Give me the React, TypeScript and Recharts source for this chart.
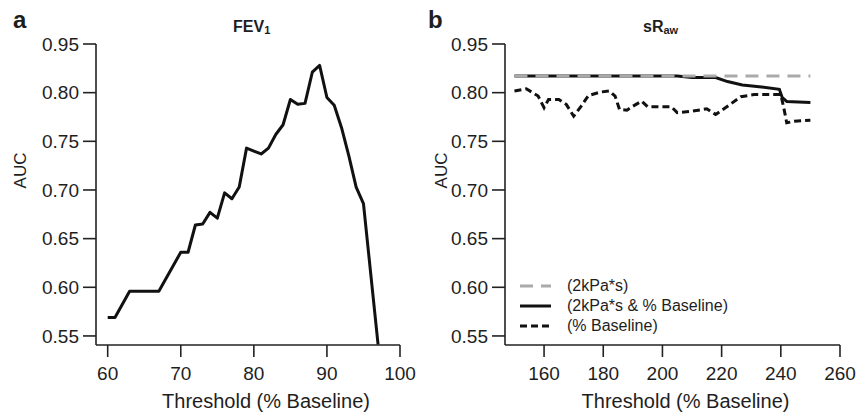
import React from 'react';
import { LineChart, Line, XAxis, YAxis, Legend } from 'recharts';

const FONT = '"Liberation Sans", Arial, Helvetica, sans-serif';
const INK = '#1e1e1e';

// ---- Panel a: FEV1 ----
const fevThreshold = [60, 61, 63, 67, 70, 71, 72, 73, 74, 75, 76, 77, 78, 79, 80, 81, 82, 83, 84, 85, 86, 87, 88, 89, 90, 91, 92, 93, 94, 95, 97];
const fevAuc = [0.569, 0.569, 0.596, 0.596, 0.636, 0.636, 0.664, 0.665, 0.677, 0.671, 0.697, 0.691, 0.703, 0.743, 0.74, 0.737, 0.743, 0.757, 0.767, 0.793, 0.788, 0.789, 0.821, 0.828, 0.795, 0.787, 0.764, 0.735, 0.703, 0.686, 0.541];
const fevXTicks = [60, 70, 80, 90, 100];

// ---- Panel b: sRaw ----
const kpaThreshold = [150, 250];
const kpaAuc = [0.817, 0.817];
const comboThreshold = [150, 205, 210, 218, 222, 227, 233.5, 239.5, 240.5, 242, 250];
const comboAuc = [0.817, 0.817, 0.8155, 0.8155, 0.8114, 0.8079, 0.8058, 0.8034, 0.7948, 0.791, 0.79];
const pctThreshold = [150, 154, 158, 160, 161.5, 165, 167.5, 170, 172.5, 175, 179, 182, 184, 185.5, 188, 190, 193, 195, 203, 205, 210, 215, 218, 222, 226.5, 231, 240, 241, 242, 244.5, 250];
const pctAuc = [0.8017, 0.804, 0.7965, 0.7845, 0.793, 0.793, 0.788, 0.7758, 0.786, 0.797, 0.8006, 0.8017, 0.7965, 0.7827, 0.782, 0.786, 0.7913, 0.7855, 0.7855, 0.7795, 0.781, 0.7834, 0.7775, 0.786, 0.7959, 0.798, 0.798, 0.7845, 0.769, 0.7706, 0.7716];
const sRawXTicks = [160, 180, 200, 220, 240, 260];

// ---- shared y axis ----
const yTicks = [0.55, 0.6, 0.65, 0.7, 0.75, 0.8, 0.85];
const yTickLabels = ['0.55', '0.60', '0.65', '0.70', '0.75', '0.80', '0.95'];

const seriesNames = ['(2kPa*s)', '(2kPa*s & % Baseline)', '(% Baseline)'];
const seriesStyles = [
  { color: '#aaaaaa', dash: '13 8' },
  { color: '#111111', dash: undefined as string | undefined },
  { color: '#111111', dash: '7 4' },
];

const toRows = (xs: number[], ys: number[]) => xs.map((x, i) => ({ threshold: x, auc: ys[i] }));

const fevRows = toRows(fevThreshold, fevAuc);
const kpaRows = toRows(kpaThreshold, kpaAuc);
const comboRows = toRows(comboThreshold, comboAuc);
const pctRows = toRows(pctThreshold, pctAuc);

const yFmt = (v: number) => {
  const i = yTicks.findIndex((t) => Math.abs(t - v) < 1e-9);
  return i >= 0 ? yTickLabels[i] : String(v);
};

const tickStyle = { fontSize: 19, fill: INK, fontFamily: FONT };
const axisLine = { stroke: '#222', strokeWidth: 1.6 };

const LegendBox = () => (
  <div style={{ fontFamily: FONT, fontSize: 16, color: INK }}>
    {seriesNames.map((name, i) => (
      <div key={name} style={{ display: 'flex', alignItems: 'center', height: 20 }}>
        <svg width={47} height={20} style={{ flex: 'none' }}>
          <line x1={0} y1={10} x2={31} y2={10} stroke={seriesStyles[i].color} strokeWidth={3} strokeDasharray={seriesStyles[i].dash} />
        </svg>
        <span style={{ whiteSpace: 'nowrap' }}>{name}</span>
      </div>
    ))}
  </div>
);

const abs = (left: number, top: number, extra: React.CSSProperties = {}): React.CSSProperties => ({
  position: 'absolute',
  left,
  top,
  lineHeight: 1,
  whiteSpace: 'nowrap',
  fontFamily: FONT,
  color: INK,
  ...extra,
});

export default function App() {
  return (
    <div style={{ position: 'absolute', left: 0, top: 0, width: 857, height: 417, background: '#fff', overflow: 'hidden' }}>
      <div style={{ position: 'absolute', left: 0, top: 0 }}>
        <LineChart width={430} height={417} data={fevRows} margin={{ top: 44, right: 30, bottom: 0, left: 0 }}>
          <XAxis
            dataKey="threshold"
            type="number"
            domain={[58.4, 100]}
            ticks={fevXTicks}
            allowDataOverflow
            height={72}
            tickSize={12}
            tickMargin={10}
            tick={tickStyle}
            axisLine={axisLine}
            tickLine={axisLine}
            interval={0}
            label={{ value: 'Threshold (% Baseline)', position: 'insideBottom', offset: 9, dx: 18, fontSize: 20, fill: INK, fontFamily: FONT }}
          />
          <YAxis
            type="number"
            domain={[0.5407, 0.85]}
            ticks={yTicks}
            allowDataOverflow
            width={96}
            tickSize={13}
            tickMargin={4}
            tick={tickStyle}
            tickFormatter={yFmt}
            axisLine={axisLine}
            tickLine={axisLine}
            interval={0}
            label={{ value: 'AUC', angle: -90, position: 'center', dx: -28, dy: -24, fontSize: 17, fill: INK, fontFamily: FONT }}
          />
          <Line type="linear" dataKey="auc" stroke="#111" strokeWidth={3} dot={false} strokeLinejoin="round" isAnimationActive={false} />
        </LineChart>
      </div>

      <div style={{ position: 'absolute', left: 430, top: 0 }}>
        <LineChart width={427} height={417} margin={{ top: 44, right: 17, bottom: 0, left: 0 }}>
          <XAxis
            dataKey="threshold"
            type="number"
            domain={[146.8, 260]}
            ticks={sRawXTicks}
            allowDataOverflow
            height={72}
            tickSize={12}
            tickMargin={10}
            tick={tickStyle}
            axisLine={axisLine}
            tickLine={axisLine}
            interval={0}
            label={{ value: 'Threshold (% Baseline)', position: 'insideBottom', offset: 9, dx: 13, fontSize: 20, fill: INK, fontFamily: FONT }}
          />
          <YAxis
            type="number"
            domain={[0.5407, 0.85]}
            ticks={yTicks}
            allowDataOverflow
            width={75}
            tickSize={13}
            tickMargin={4}
            tick={tickStyle}
            tickFormatter={yFmt}
            axisLine={axisLine}
            tickLine={axisLine}
            interval={0}
            label={{ value: 'AUC', angle: -90, position: 'center', dx: -27, dy: -24, fontSize: 17, fill: INK, fontFamily: FONT }}
          />
          <Line data={pctRows} name={seriesNames[2]} type="linear" dataKey="auc" stroke={seriesStyles[2].color} strokeWidth={3} strokeDasharray={seriesStyles[2].dash} dot={false} isAnimationActive={false} />
          <Line data={comboRows} name={seriesNames[1]} type="linear" dataKey="auc" stroke={seriesStyles[1].color} strokeWidth={3} dot={false} isAnimationActive={false} />
          <Line data={kpaRows} name={seriesNames[0]} type="linear" dataKey="auc" stroke={seriesStyles[0].color} strokeWidth={3} strokeDasharray={seriesStyles[0].dash} dot={false} isAnimationActive={false} />
          <Legend content={LegendBox} layout="horizontal" align="center" verticalAlign="middle" wrapperStyle={{ left: 90, top: 276, width: 260, height: 60 }} />
        </LineChart>
      </div>

      <div style={abs(13, 8, { fontSize: 24, fontWeight: 'bold' })}>a</div>
      <div style={abs(428, 8, { fontSize: 24, fontWeight: 'bold' })}>b</div>
      <div style={abs(233, 19, { fontSize: 16, fontWeight: 'bold' })}>
        FEV<span style={{ fontSize: 11, position: 'relative', top: 2 }}>1</span>
      </div>
      <div style={abs(643, 19, { fontSize: 16, fontWeight: 'bold' })}>
        sR<span style={{ fontSize: 11, position: 'relative', top: 2 }}>aw</span>
      </div>
    </div>
  );
}
